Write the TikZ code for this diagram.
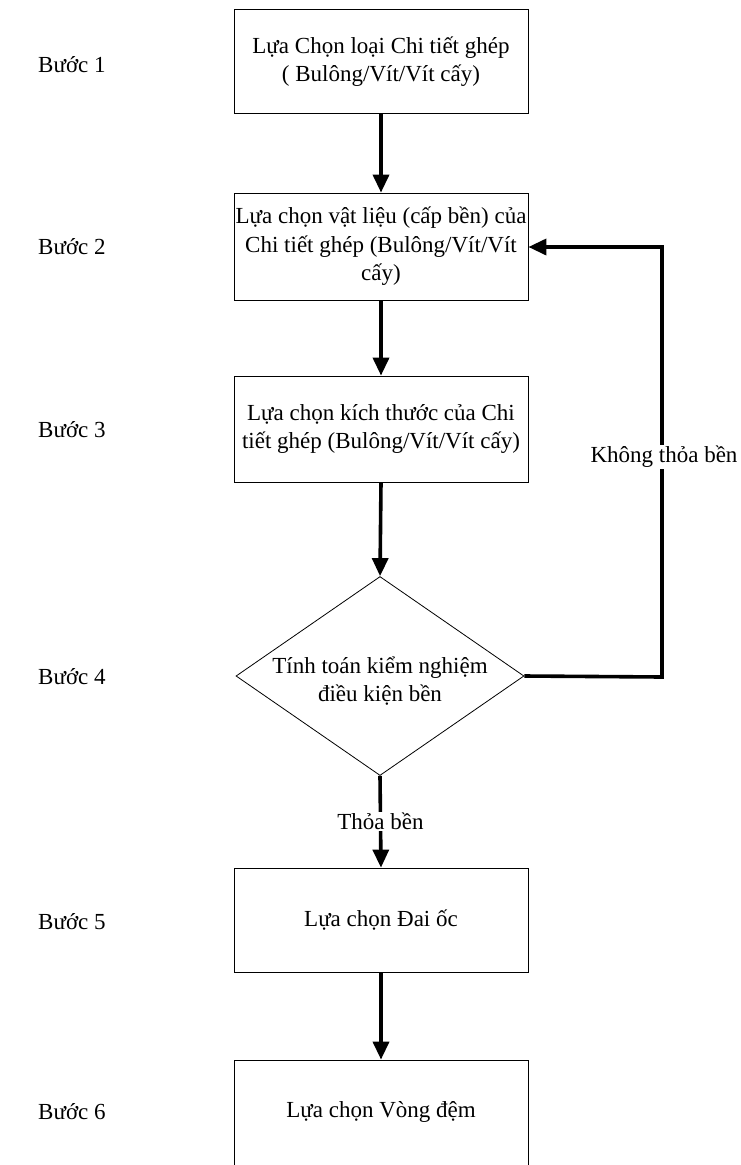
\documentclass[tikz,border=0pt]{standalone}
\usepackage{fontspec}
\setmainfont{Liberation Serif}
\usetikzlibrary{shapes.geometric,arrows.meta}
\begin{document}
\begin{tikzpicture}[x=1pt,y=-1pt,
  every node/.style={font=\fontsize{23}{28.5}\selectfont},
  stepbox/.style={draw,line width=0.8pt,minimum width=294pt,minimum height=104pt,inner sep=0pt,align=center},
  decision/.style={draw,diamond,line width=0.8pt,minimum width=288pt,minimum height=199pt,inner sep=0pt},
  flow/.style={line width=3.6pt,line join=miter,-{Triangle[length=18pt,width=16pt]}},
  steplabel/.style={anchor=west,inner sep=0pt},
  tag/.style={fill=white,inner sep=1pt}]
\useasboundingbox (0,0) rectangle (740,1165);
\clip (0,0) rectangle (740,1165);
% process boxes
\node[stepbox] (b1) at (381,61.5) {Lựa Chọn loại Chi tiết ghép\\( Bulông/Vít/Vít cấy)};
\node[stepbox,minimum height=107pt] (b2) at (381,246.5) {Lựa chọn vật liệu (cấp bền) của\\Chi tiết ghép (Bulông/Vít/Vít\\cấy)};
\node[stepbox,minimum height=106pt] (b3) at (381,429) {Lựa chọn kích thước của Chi\\tiết ghép (Bulông/Vít/Vít cấy)};
\node[decision] (d) at (380,676) {};
\node[align=center] (dt) at (380,681) {Tính toán kiểm nghiệm\\điều kiện bền};
\node[stepbox] (b5) at (381,920) {Lựa chọn Đai ốc};
\node[stepbox,minimum height=108pt] (b6) at (381,1114) {};
\node (b6t) at (381,1112) {Lựa chọn Vòng đệm};
% step labels
\node[steplabel] (s1) at (38,65) {Bước 1};
\node[steplabel] (s2) at (38,247) {Bước 2};
\node[steplabel] (s3) at (38,430) {Bước 3};
\node[steplabel] (s4) at (38,677) {Bước 4};
\node[steplabel] (s5) at (38,922) {Bước 5};
\node[steplabel] (s6) at (38,1112) {Bước 6};
% connectors
\draw[flow] (b1.south) -- (b2.north);
\draw[flow] (b2.south) -- (b3.north);
\draw[flow] (b3.south) -- (d.north);
\draw[flow] (d.south) -- node[tag] (ok) {Thỏa bền} (b5.north);
\draw[flow] (b5.south) -- (b6.north);
\coordinate (r1) at (662,677);
\coordinate (r2) at (662,247);
\draw[flow] (d.east) -- (r1) -- (r2) -- (b2.east |- r2);
\node[tag] (nok) at (664,457) {Không thỏa bền};
\end{tikzpicture}
\end{document}
